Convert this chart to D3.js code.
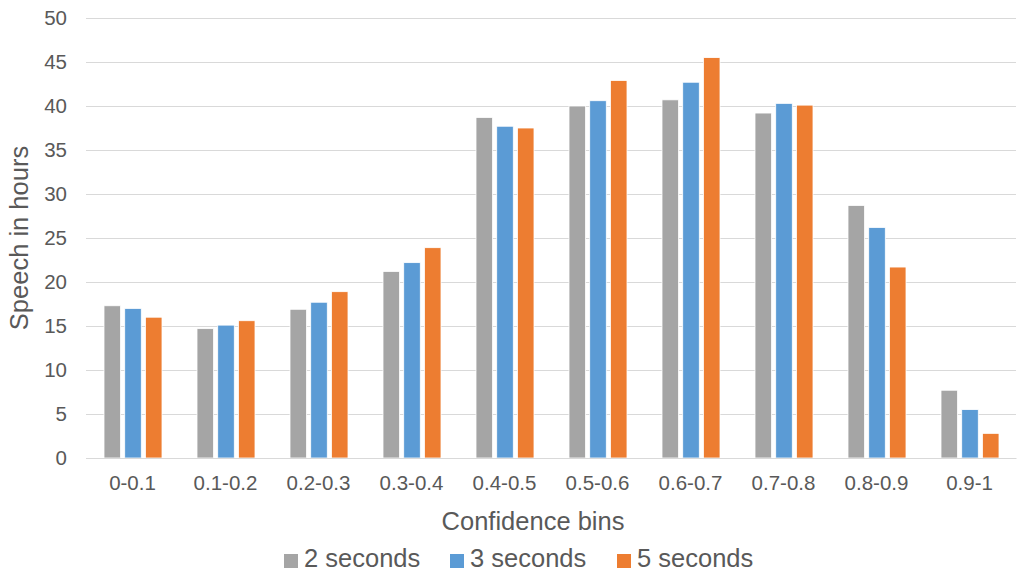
<!DOCTYPE html>
<html>
<head>
<meta charset="utf-8">
<script src="https://cdn.jsdelivr.net/npm/d3@7"></script>
<style>
  body { margin: 0; background: #fff; }
  text { font-family: "Liberation Sans", Arial, sans-serif; fill: #595959; }
</style>
</head>
<body>
<script>
var bins = ['0-0.1', '0.1-0.2', '0.2-0.3', '0.3-0.4', '0.4-0.5', '0.5-0.6', '0.6-0.7', '0.7-0.8', '0.8-0.9', '0.9-1'];
var seriesNames = ['2 seconds', '3 seconds', '5 seconds'];
var twoSec = [17.3, 14.7, 16.9, 21.2, 38.7, 40.0, 40.7, 39.2, 28.7, 7.7];
var threeSec = [17.0, 15.1, 17.7, 22.2, 37.7, 40.6, 42.7, 40.3, 26.2, 5.5];
var fiveSec = [16.0, 15.6, 18.9, 23.9, 37.5, 42.9, 45.5, 40.1, 21.7, 2.8];
var yTicks = [0, 5, 10, 15, 20, 25, 30, 35, 40, 45, 50];
var colors = ['#A5A5A5', '#5B9BD5', '#ED7D31'];

var width = 1020;
var height = 572;
var margin = {left: 86, right: 4, top: 18, bottom: 114};

var svg = d3.select('body').append('svg')
  .attr('width', width)
  .attr('height', height);

var x = d3.scaleBand()
  .domain(bins)
  .range([margin.left, width - margin.right])
  .paddingInner(0)
  .paddingOuter(0);

var x1 = d3.scaleBand()
  .domain(seriesNames)
  .range([18, x.bandwidth() - 17])
  .paddingInner(0.2);

var y = d3.scaleLinear()
  .domain([0, 50])
  .range([height - margin.bottom, margin.top]);

// grid
svg.append('g').selectAll('line')
  .data(yTicks)
  .enter().append('line')
  .attr('x1', margin.left)
  .attr('x2', width - margin.right)
  .attr('y1', function(d) { return Math.round(y(d)) + 0.5; })
  .attr('y2', function(d) { return Math.round(y(d)) + 0.5; })
  .attr('stroke', '#D9D9D9')
  .attr('stroke-width', 1);

// y axis labels
var yAxis = d3.axisLeft(y).tickValues(yTicks).tickSize(0).tickPadding(19);
var yg = svg.append('g')
  .attr('transform', 'translate(' + margin.left + ',0)')
  .call(yAxis);
yg.select('.domain').remove();
yg.selectAll('text').style('font-size', '20.5px').attr('fill', '#595959')
  .style('font-family', '"Liberation Sans", Arial, sans-serif');

// bars
var data = [twoSec, threeSec, fiveSec];
data.forEach(function(vals, si) {
  svg.append('g').selectAll('rect')
    .data(vals)
    .enter().append('rect')
    .attr('x', function(d, i) { return x(bins[i]) + x1(seriesNames[si]); })
    .attr('y', function(d) { return y(d); })
    .attr('width', x1.bandwidth())
    .attr('height', function(d) { return y(0) - y(d); })
    .attr('fill', colors[si])
    .attr('stroke', '#fff')
    .attr('stroke-width', 0.8);
});

// x axis
var xAxis = d3.axisBottom(x).tickSize(0).tickPadding(17);
var xg = svg.append('g')
  .attr('transform', 'translate(0,' + y(0) + ')')
  .call(xAxis);
xg.select('.domain').attr('stroke', '#D9D9D9');
xg.selectAll('text').style('font-size', '20.5px').attr('fill', '#595959')
  .style('font-family', '"Liberation Sans", Arial, sans-serif');

// axis titles
svg.append('text')
  .attr('transform', 'translate(28,' + ((margin.top + y(0)) / 2) + ') rotate(-90)')
  .attr('text-anchor', 'middle')
  .style('font-size', '25.5px')
  .text('Speech in hours');

svg.append('text')
  .attr('x', (margin.left + width - margin.right) / 2 - 18)
  .attr('y', 530)
  .attr('text-anchor', 'middle')
  .style('font-size', '25.5px')
  .text('Confidence bins');

// legend
var legendX = [284, 450, 617];
var legend = svg.append('g').selectAll('g')
  .data(seriesNames)
  .enter().append('g')
  .attr('transform', function(d, i) { return 'translate(' + legendX[i] + ',554)'; });
legend.append('rect')
  .attr('width', 14)
  .attr('height', 14)
  .attr('fill', function(d, i) { return colors[i]; });
legend.append('text')
  .attr('x', 20)
  .attr('y', 13)
  .style('font-size', '25.5px')
  .text(function(d) { return d; });
</script>
</body>
</html>
